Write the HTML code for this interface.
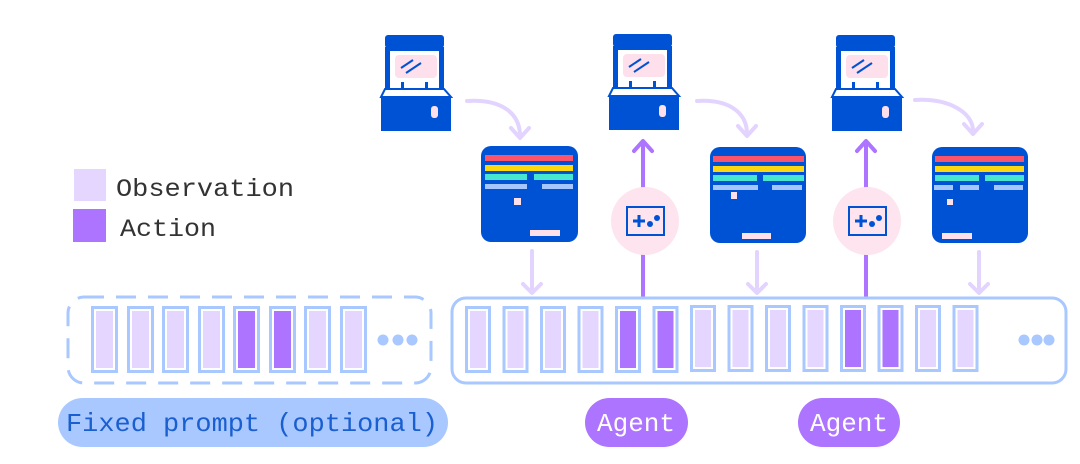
<!DOCTYPE html>
<html><head><meta charset="utf-8"><style>
html,body{margin:0;padding:0;background:#fff;}
svg{display:block;}
text{font-family:"Liberation Mono","DejaVu Sans Mono",monospace;}
</style></head><body>
<svg width="1080" height="464" viewBox="0 0 1080 464" xmlns="http://www.w3.org/2000/svg">
<defs>
<g id="cab">
  <rect x="4" y="0" width="59" height="13" rx="3" fill="#0052d4"/>
  <rect x="4" y="12" width="59" height="4" fill="#0052d4"/>
  <rect x="4" y="12" width="5" height="44" fill="#0052d4"/>
  <rect x="58" y="12" width="5" height="44" fill="#0052d4"/>
  <rect x="14" y="20" width="42" height="23" rx="4" fill="#fde0ec"/>
  <line x1="20" y1="33" x2="32" y2="25" stroke="#0052d4" stroke-width="2"/>
  <line x1="25" y1="38" x2="40" y2="28" stroke="#0052d4" stroke-width="2"/>
  <rect x="20" y="47" width="3" height="9" fill="#0052d4"/>
  <rect x="44" y="47" width="3" height="9" fill="#0052d4"/>
  <polygon points="4,54 63,54 70,62 0,62" fill="#fff" stroke="#0052d4" stroke-width="2"/>
  <rect x="0" y="62" width="70" height="34" fill="#0052d4"/>
  <rect x="50" y="71" width="7" height="12" rx="3" fill="#fde0ec"/>
</g>
<g id="ctrl">
  <circle cx="0" cy="0" r="34" fill="#fde4ef"/>
  <rect x="-18" y="-14" width="37" height="28" fill="none" stroke="#0052d4" stroke-width="2"/>
  <rect x="-12" y="-1.5" width="12" height="3" fill="#0052d4"/>
  <rect x="-7.5" y="-6" width="3" height="12" fill="#0052d4"/>
  <circle cx="5" cy="3" r="3" fill="#0052d4"/>
  <circle cx="12" cy="-3" r="3" fill="#0052d4"/>
</g>
<g id="obs"><rect x="1.5" y="1.5" width="23" height="64" fill="#fff" stroke="#a8c8ff" stroke-width="3"/><rect x="5" y="5" width="16" height="57" fill="#e5d6ff"/></g>
<g id="act"><rect x="1.5" y="1.5" width="23" height="64" fill="#fff" stroke="#a8c8ff" stroke-width="3"/><rect x="5" y="5" width="16" height="57" fill="#ad74ff"/></g>
<g id="pobs"><rect x="1.5" y="1.5" width="24" height="64" fill="#fff" stroke="#a8c8ff" stroke-width="3"/><rect x="5" y="5" width="17" height="57" fill="#e5d6ff"/></g>
<g id="pact"><rect x="1.5" y="1.5" width="24" height="64" fill="#fff" stroke="#a8c8ff" stroke-width="3"/><rect x="5" y="5" width="17" height="57" fill="#ad74ff"/></g>
</defs>

<!-- legend -->
<rect x="74" y="169" width="32" height="32" fill="#e5d6ff"/>
<rect x="73" y="209" width="33" height="33" fill="#ad74ff"/>
<text x="116" y="196" font-size="25" fill="#333" textLength="178" lengthAdjust="spacingAndGlyphs">Observation</text>
<text x="120" y="236" font-size="25" fill="#333" textLength="96" lengthAdjust="spacingAndGlyphs">Action</text>

<!-- cabinets -->
<use href="#cab" x="381" y="35"/>
<use href="#cab" x="609" y="34"/>
<use href="#cab" x="832" y="35"/>

<!-- curved arrows -->
<g fill="none" stroke="#e3d4ff" stroke-width="4" stroke-linecap="round" stroke-linejoin="round">
  <path d="M467,101 C500,99 520,112 520,136"/><path d="M511,128 L520,138 L529,128"/>
  <path d="M697,101 C728,99 747,112 747,134"/><path d="M738,126 L747,136 L756,126"/>
  <path d="M915,100 C948,98 973,112 973,131"/><path d="M964,124 L973,134 L982,124"/>
</g>

<!-- screens -->
<g transform="translate(481,146)">
  <rect width="97" height="96" rx="10" fill="#0052d4"/>
  <rect x="4" y="9" width="88" height="6" fill="#f9546a"/>
  <rect x="4" y="19" width="88" height="6" fill="#fdd80f"/>
  <rect x="4" y="28" width="42" height="6" fill="#46e6d0"/><rect x="53" y="28" width="39" height="6" fill="#46e6d0"/>
  <rect x="4" y="38" width="42" height="5" fill="#a6c6ff"/><rect x="61" y="38" width="31" height="5" fill="#a6c6ff"/>
  <rect x="33" y="52" width="7" height="7" fill="#fde0ec"/>
  <rect x="49" y="84" width="30" height="6" fill="#fde0ec"/>
</g>
<g transform="translate(710,147)">
  <rect width="96" height="96" rx="10" fill="#0052d4"/>
  <rect x="3" y="9" width="91" height="6" fill="#f9546a"/>
  <rect x="3" y="19" width="91" height="6" fill="#fdd80f"/>
  <rect x="3" y="28" width="44" height="6" fill="#46e6d0"/><rect x="53" y="28" width="41" height="6" fill="#46e6d0"/>
  <rect x="3" y="38" width="45" height="5" fill="#a6c6ff"/><rect x="62" y="38" width="30" height="5" fill="#a6c6ff"/>
  <rect x="21" y="45" width="6" height="7" fill="#fde0ec"/>
  <rect x="32" y="86" width="29" height="6" fill="#fde0ec"/>
</g>
<g transform="translate(932,147)">
  <rect width="96" height="96" rx="10" fill="#0052d4"/>
  <rect x="3" y="9" width="89" height="6" fill="#f9546a"/>
  <rect x="3" y="19" width="89" height="6" fill="#fdd80f"/>
  <rect x="3" y="28" width="44" height="6" fill="#46e6d0"/><rect x="53" y="28" width="39" height="6" fill="#46e6d0"/>
  <rect x="2" y="38" width="19" height="5" fill="#a6c6ff"/><rect x="28" y="38" width="19" height="5" fill="#a6c6ff"/><rect x="62" y="38" width="29" height="5" fill="#a6c6ff"/>
  <rect x="15" y="52" width="6" height="6" fill="#fde0ec"/>
  <rect x="10" y="86" width="30" height="6" fill="#fde0ec"/>
</g>

<!-- down arrows -->
<g fill="none" stroke="#e3d4ff" stroke-width="4" stroke-linecap="round" stroke-linejoin="round">
  <line x1="532" y1="251" x2="532" y2="292"/><path d="M523,284 L532,293 L541,284"/>
  <line x1="757" y1="252" x2="757" y2="292"/><path d="M748,284 L757,293 L766,284"/>
  <line x1="979" y1="252" x2="979" y2="292"/><path d="M970,284 L979,293 L988,284"/>
</g>

<!-- up arrows -->
<g fill="none" stroke="#ad74ff" stroke-width="4" stroke-linecap="round" stroke-linejoin="round">
  <line x1="643" y1="298" x2="643" y2="142"/><path d="M634,151 L643,141 L652,151"/>
  <line x1="866" y1="298" x2="866" y2="142"/><path d="M857,151 L866,141 L875,151"/>
</g>
<use href="#ctrl" x="645" y="221"/>
<use href="#ctrl" x="867" y="221"/>

<!-- prompt box -->
<rect x="68" y="297" width="363" height="86" rx="16" fill="none" stroke="#a8c8ff" stroke-width="3" stroke-dasharray="20,12"/>
<use href="#pobs" x="91" y="306"/>
<use href="#pobs" x="127" y="306"/>
<use href="#pobs" x="162" y="306"/>
<use href="#pobs" x="198" y="306"/>
<use href="#pact" x="233" y="306"/>
<use href="#pact" x="269" y="306"/>
<use href="#pobs" x="304" y="306"/>
<use href="#pobs" x="340" y="306"/>
<circle cx="383" cy="340" r="5.5" fill="#a8c8ff"/>
<circle cx="398" cy="340" r="5.5" fill="#a8c8ff"/>
<circle cx="412" cy="340" r="5.5" fill="#a8c8ff"/>

<!-- main sequence -->
<rect x="452" y="298" width="614" height="85" rx="14" fill="#fff" stroke="#a8c8ff" stroke-width="3"/>
<use href="#obs" x="465" y="306"/>
<use href="#obs" x="502.5" y="306"/>
<use href="#obs" x="540" y="306"/>
<use href="#obs" x="577.5" y="306"/>
<use href="#act" x="615" y="306"/>
<use href="#act" x="652.5" y="306"/>
<use href="#obs" x="690" y="305"/>
<use href="#obs" x="727.5" y="305"/>
<use href="#obs" x="765" y="305"/>
<use href="#obs" x="802.5" y="305"/>
<use href="#act" x="840" y="305"/>
<use href="#act" x="877.5" y="305"/>
<use href="#obs" x="915" y="305"/>
<use href="#obs" x="952.5" y="305"/>
<circle cx="1024" cy="340" r="5.5" fill="#a8c8ff"/>
<circle cx="1037" cy="340" r="5.5" fill="#a8c8ff"/>
<circle cx="1049" cy="340" r="5.5" fill="#a8c8ff"/>

<!-- pills -->
<rect x="58" y="398" width="390" height="49" rx="24.5" fill="#a8c8ff"/>
<text x="66" y="431" font-size="26" fill="#1a5fd0" textLength="372" lengthAdjust="spacingAndGlyphs">Fixed prompt (optional)</text>
<rect x="585" y="398" width="103" height="49" rx="24.5" fill="#ad74ff"/>
<text x="597" y="431" font-size="26" fill="#fff" textLength="78" lengthAdjust="spacingAndGlyphs">Agent</text>
<rect x="798" y="398" width="102" height="49" rx="24.5" fill="#ad74ff"/>
<text x="810" y="431" font-size="26" fill="#fff" textLength="78" lengthAdjust="spacingAndGlyphs">Agent</text>
</svg>
</body></html>
